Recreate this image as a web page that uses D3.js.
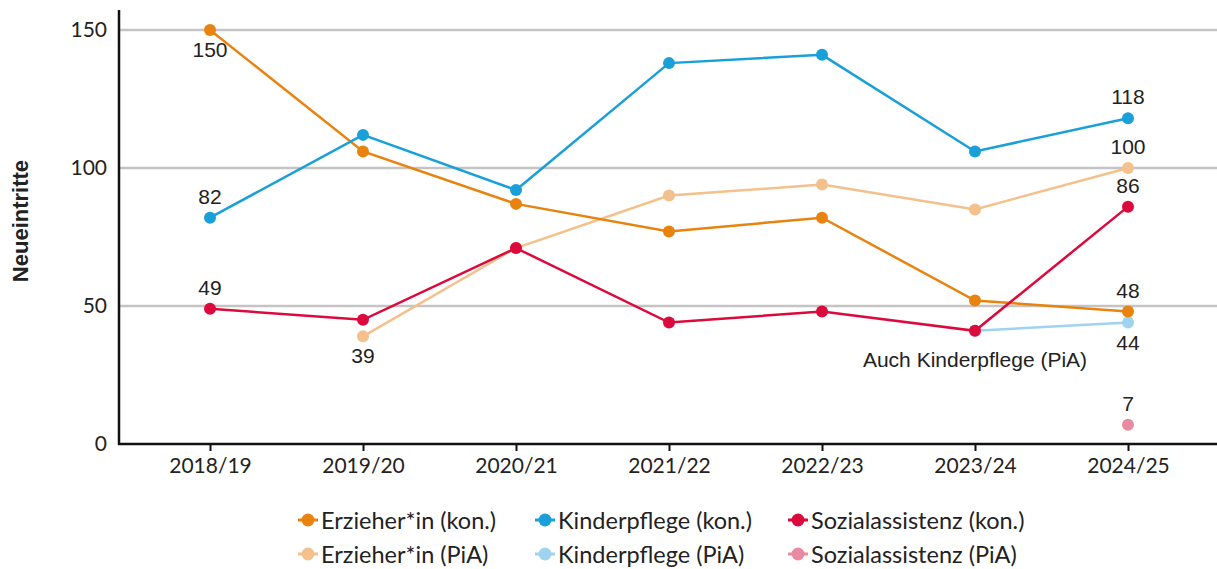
<!DOCTYPE html>
<html><head><meta charset="utf-8">
<script src="https://cdn.jsdelivr.net/npm/d3@7"></script>
<style>
body{margin:0;background:#fff;}
svg{display:block;}
</style></head>
<body>
<svg id="c" width="1217" height="569"></svg>
<script>
const categories = ["2018/19","2019/20","2020/21","2021/22","2022/23","2023/24","2024/25"];
const erzKon   = [150,106,87,77,82,52,48];
const kinKon   = [82,112,92,138,141,106,118];
const sozKon   = [49,45,71,44,48,41,86];
const erzPiA   = [null,39,71,90,94,85,100];
const kinPiA   = [null,null,null,null,null,41,44];
const sozPiA   = [null,null,null,null,null,null,7];
const yTicks   = [0,50,100,150];
const seriesNames = ["Erzieher*in (kon.)","Kinderpflege (kon.)","Sozialassistenz (kon.)","Erzieher*in (PiA)","Kinderpflege (PiA)","Sozialassistenz (PiA)"];
const colors = ["#e8830f","#1aa0d9","#dc0a3c","#f4c08b","#9fd3f0","#ea8aa0"];
// labels: [seriesIndex, categoryIndex, position]
const labels = [[0,0,"below"],[1,0,"above"],[2,0,"above"],[3,1,"below"],
  [1,6,"above"],[3,6,"above"],[2,6,"above"],[0,6,"above"],[4,6,"below"],[5,6,"above"]];
const annotation = "Auch Kinderpflege (PiA)";

const data = [erzKon,kinKon,sozKon,erzPiA,kinPiA,sozPiA];
const svg = d3.select("#c");
const x = d3.scalePoint().domain(categories).range([210,1128]);
const y = d3.scaleLinear().domain([0,150]).range([444,30]);

// grid
svg.append("g").selectAll("line").data(yTicks.filter(d=>d>0)).join("line")
  .attr("x1",119).attr("x2",1217).attr("y1",d=>y(d)).attr("y2",d=>y(d))
  .attr("stroke","#c4c4c4").attr("stroke-width",2.5);

// y axis
const ya = svg.append("g").attr("transform","translate(119,0)")
  .call(d3.axisLeft(y).tickValues(yTicks).tickSize(0).tickPadding(12));
ya.select(".domain").remove();
ya.selectAll("text").attr("font-family","Lato").attr("font-size",21).attr("fill","#222");
svg.append("line").attr("x1",119).attr("x2",119).attr("y1",10).attr("y2",445)
  .attr("stroke","#111").attr("stroke-width",2.5);

// x axis
const xa = svg.append("g").attr("transform","translate(0,444)")
  .call(d3.axisBottom(x).tickSize(7).tickPadding(7));
xa.select(".domain").remove();
xa.selectAll(".tick line").attr("stroke","#111").attr("stroke-width",2);
xa.selectAll("text").attr("font-family","Lato").attr("font-size",21).attr("fill","#222");
svg.append("line").attr("x1",118).attr("x2",1217).attr("y1",444).attr("y2",444)
  .attr("stroke","#111").attr("stroke-width",2.5);

// y title
svg.append("text").attr("transform","translate(28,221) rotate(-90)")
  .attr("text-anchor","middle").attr("font-family","Liberation Sans, Arial")
  .attr("font-weight","bold").attr("font-size",22).attr("fill","#222").text("Neueintritte");

// lines (PiA first, kon on top)
const order = [3,4,5,0,1,2];
const line = d3.line().defined(d=>d.v!=null).x(d=>x(d.c)).y(d=>y(d.v));
order.forEach(i=>{
  const pts = categories.map((c,j)=>({c,v:data[i][j]}));
  svg.append("path").datum(pts).attr("d",line).attr("fill","none")
    .attr("stroke",colors[i]).attr("stroke-width",2.5);
  svg.append("g").selectAll("circle").data(pts.filter(d=>d.v!=null)).join("circle")
    .attr("cx",d=>x(d.c)).attr("cy",d=>y(d.v)).attr("r",6).attr("fill",colors[i]);
});

// data labels
svg.append("g").selectAll("text").data(labels).join("text")
  .attr("x",d=>x(categories[d[1]]))
  .attr("y",d=>y(data[d[0]][d[1]]) + (d[2]==="above"? -14 : 27))
  .attr("text-anchor","middle").attr("font-family","Liberation Sans, Arial")
  .attr("font-size",21).attr("fill","#222").text(d=>data[d[0]][d[1]]);

svg.append("text").attr("x",x("2023/24")).attr("y",367).attr("text-anchor","middle")
  .attr("font-family","Liberation Sans, Arial").attr("font-size",21).attr("fill","#222").text(annotation);

// legend
const legX = [298,535,788], legY = [520,554];
seriesNames.forEach((n,i)=>{
  const gx = legX[i%3], gy = legY[Math.floor(i/3)];
  const g = svg.append("g").attr("transform",`translate(${gx},${gy})`);
  g.append("line").attr("x1",0).attr("x2",20).attr("stroke",colors[i]).attr("stroke-width",3);
  g.append("circle").attr("cx",10).attr("r",6.5).attr("fill",colors[i]);
  g.append("text").attr("x",23).attr("y",8.5).attr("font-family","Lato").attr("font-size",23.5)
    .attr("fill","#222").text(n);
});
</script>
</body></html>
